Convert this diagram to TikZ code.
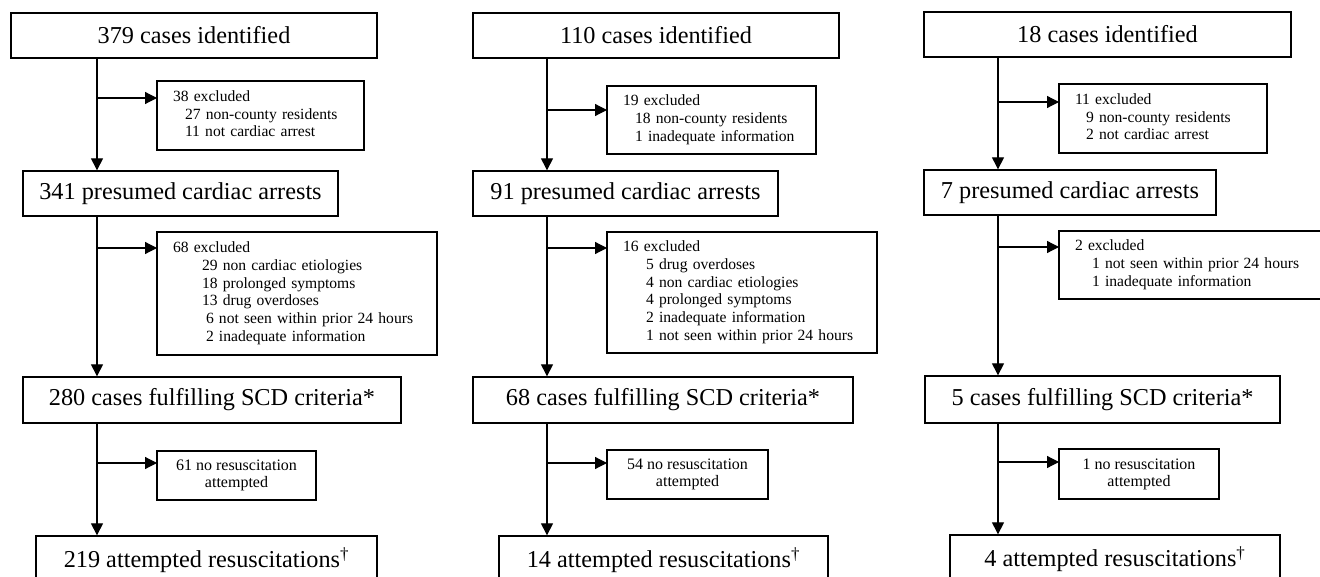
\documentclass[tikz,border=0pt]{standalone}
\usepackage{fontspec}
\setmainfont{Liberation Serif}
\usetikzlibrary{arrows.meta}
\tikzset{
  mainbox/.style={draw, line width=1pt, inner sep=0pt, font=\fontsize{18.2}{21}\selectfont},
  exbox/.style={draw, line width=1pt, inner ysep=0pt, inner xsep=12pt, align=left, font=\fontsize{11.7}{13.3}\selectfont},
  nrbox/.style={draw, line width=1pt, inner sep=0pt, align=center, font=\fontsize{12}{12.8}\selectfont},
  arr/.style={line width=0.9pt, -{Triangle[length=9pt,width=9pt]}},
}
\newcommand\mybox[7]{%
  \node[#2, minimum width={(#5-#3)*0.75pt}, minimum height={(#6-#4)*0.75pt}] (#1) at ({(#3+#5)/2},{(#4+#6)/2}) {#7};}
\newcommand\ind[1]{\hspace*{#1}}
\begin{document}
\begin{tikzpicture}[x=0.75pt, y=-0.75pt]
\path[use as bounding box, clip] (0,0) rectangle (1320,577);
\fill[white] (0,0) rectangle (1320,577);

% ---------- column 1 ----------
\mybox{A1}{mainbox}{11}{13}{377}{58}{379 cases identified}
\mybox{B1}{mainbox}{23}{171}{338}{216}{341 presumed cardiac arrests}
\mybox{C1}{mainbox}{23}{377}{401}{423}{280 cases fulfilling SCD criteria*}
\mybox{D1}{mainbox}{36}{536}{377}{584}{219 attempted resuscitations\textsuperscript{\textdagger}}
\mybox{E1}{exbox, text width=131.25pt}{157}{81}{364}{150}{\begin{tabular}{@{}l@{}}38 excluded\\
\ind{9pt}27 non-county residents\\
\ind{9pt}11 not cardiac arrest\end{tabular}}
\mybox{E2}{exbox, text width=186pt}{157}{232}{437}{355}{\begin{tabular}{@{}l@{}}68 excluded\\
\ind{21.75pt}29 non cardiac etiologies\\
\ind{21.75pt}18 prolonged symptoms\\
\ind{21.75pt}13 drug overdoses\\
\ind{24.75pt}6 not seen within prior 24 hours\\
\ind{24.75pt}2 inadequate information\end{tabular}}
\mybox{E3}{nrbox}{157}{451}{316}{500}{61 no resuscitation\\attempted}
\coordinate (t1) at (97,0);
\coordinate (e1) at (157,98);
\coordinate (e2) at (157,248);
\coordinate (e3) at (157,463);
\draw[arr] (A1.south -| t1) -- (B1.north -| t1);
\draw[arr] (B1.south -| t1) -- (C1.north -| t1);
\draw[arr] (C1.south -| t1) -- (D1.north -| t1);
\draw[arr] (e1 -| t1) -- (e1);
\draw[arr] (e2 -| t1) -- (e2);
\draw[arr] (e3 -| t1) -- (e3);

% ---------- column 2 ----------
\mybox{A2}{mainbox}{473}{13}{839}{58}{110 cases identified}
\mybox{B2}{mainbox}{473}{171}{778}{216}{91 presumed cardiac arrests}
\mybox{C2}{mainbox}{473}{377}{853}{423}{68 cases fulfilling SCD criteria*}
\mybox{D2}{mainbox}{499}{536}{828}{584}{14 attempted resuscitations\textsuperscript{\textdagger}}
\mybox{E4}{exbox, text width=132.75pt}{607}{86}{816}{154}{\begin{tabular}{@{}l@{}}19 excluded\\
\ind{9pt}18 non-county residents\\
\ind{9pt}1 inadequate information\end{tabular}}
\mybox{E5}{exbox, text width=178.5pt}{607}{232}{877}{353}{\begin{tabular}{@{}l@{}}16 excluded\\
\ind{17.25pt}5 drug overdoses\\
\ind{17.25pt}4 non cardiac etiologies\\
\ind{17.25pt}4 prolonged symptoms\\
\ind{17.25pt}2 inadequate information\\
\ind{17.25pt}1 not seen within prior 24 hours\end{tabular}}
\mybox{E6}{nrbox}{607}{450}{768}{499}{54 no resuscitation\\attempted}
\coordinate (t2) at (547,0);
\coordinate (e4) at (607,110);
\coordinate (e5) at (607,248);
\coordinate (e6) at (607,463);
\draw[arr] (A2.south -| t2) -- (B2.north -| t2);
\draw[arr] (B2.south -| t2) -- (C2.north -| t2);
\draw[arr] (C2.south -| t2) -- (D2.north -| t2);
\draw[arr] (e4 -| t2) -- (e4);
\draw[arr] (e5 -| t2) -- (e5);
\draw[arr] (e6 -| t2) -- (e6);

% ---------- column 3 ----------
\mybox{A3}{mainbox}{924}{12}{1291}{57}{18 cases identified}
\mybox{B3}{mainbox}{924}{170}{1216}{215}{7 presumed cardiac arrests}
\mybox{C3}{mainbox}{925}{376}{1280}{423}{5 cases fulfilling SCD criteria*}
\mybox{D3}{mainbox}{950}{535}{1280}{584}{4 attempted resuscitations\textsuperscript{\textdagger}}
\mybox{E7}{exbox, text width=132pt}{1059}{84}{1267}{153}{\begin{tabular}{@{}l@{}}11 excluded\\
\ind{8.25pt}9 non-county residents\\
\ind{8.25pt}2 not cardiac arrest\end{tabular}}
\mybox{E8}{exbox, text width=183pt}{1059}{231}{1335}{299}{\begin{tabular}{@{}l@{}}2 excluded\\
\ind{12.75pt}1 not seen within prior 24 hours\\
\ind{12.75pt}1 inadequate information\end{tabular}}
\mybox{E9}{nrbox}{1059}{449}{1219}{499}{1 no resuscitation\\attempted}
\coordinate (t3) at (998,0);
\coordinate (e7) at (1059,102);
\coordinate (e8) at (1059,247);
\coordinate (e9) at (1059,462);
\draw[arr] (A3.south -| t3) -- (B3.north -| t3);
\draw[arr] (B3.south -| t3) -- (C3.north -| t3);
\draw[arr] (C3.south -| t3) -- (D3.north -| t3);
\draw[arr] (e7 -| t3) -- (e7);
\draw[arr] (e8 -| t3) -- (e8);
\draw[arr] (e9 -| t3) -- (e9);
\end{tikzpicture}
\end{document}
